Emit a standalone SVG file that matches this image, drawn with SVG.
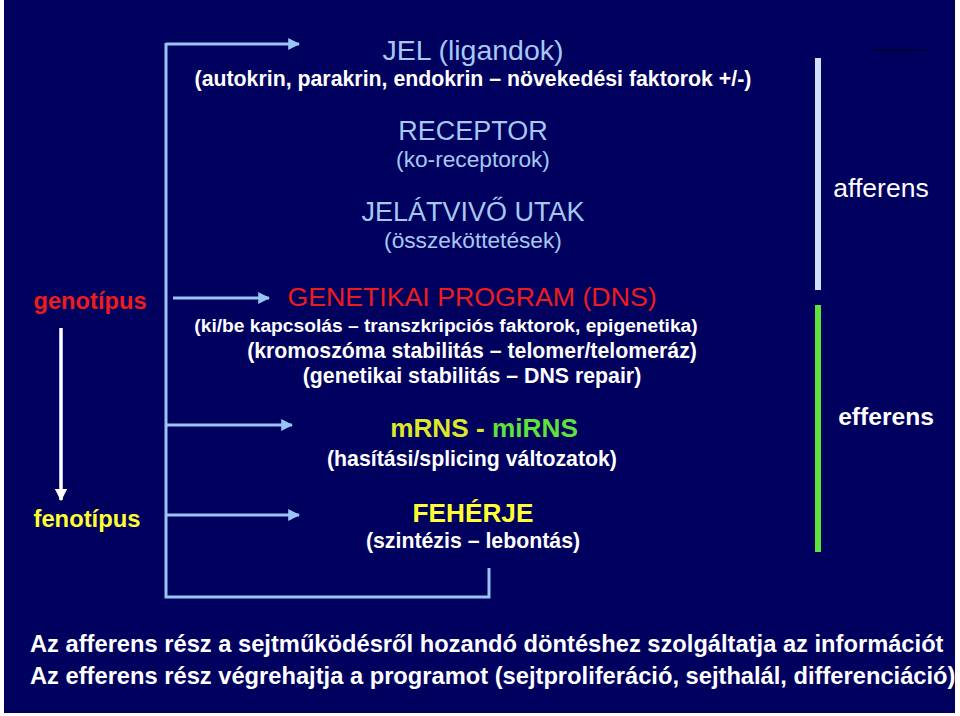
<svg xmlns="http://www.w3.org/2000/svg" width="960" height="716" viewBox="0 0 960 716">
<defs>
<style>
text{font-family:"Liberation Sans",Arial,sans-serif;}
.c{text-anchor:middle;}
.lb{fill:#a6c8f2;font-size:27px;}
.lbs{fill:#a6c8f2;font-size:22.7px;}
.w{fill:#ffffff;font-size:21.3px;font-weight:bold;}
.bw{fill:#ffffff;font-size:23.7px;font-weight:bold;}
.ln{stroke:#99c4f5;stroke-width:3;fill:none;}
</style>
<marker id="ah" viewBox="0 0 10 10" refX="9" refY="5" markerWidth="4" markerHeight="4" markerUnits="strokeWidth" orient="auto">
<path d="M0,0 L10,5 L0,10 z" fill="#99c4f5"/>
</marker>
<marker id="wh" viewBox="0 0 10 10" refX="9" refY="5" markerWidth="3.5" markerHeight="3.5" markerUnits="strokeWidth" orient="auto">
<path d="M0,0 L10,5 L0,10 z" fill="#ffffff"/>
</marker>
</defs>
<rect x="0" y="0" width="960" height="716" fill="#ffffff"/>
<rect x="4" y="0" width="951" height="713" fill="#00005f"/>
<g id="connectors">
<polyline class="ln" points="166,43 166,597 489,597 489,568"/>
<line class="ln" x1="166" y1="44" x2="299" y2="44" marker-end="url(#ah)"/>
<line class="ln" x1="173" y1="298" x2="269" y2="298" marker-end="url(#ah)"/>
<line class="ln" x1="166" y1="425" x2="292" y2="425" marker-end="url(#ah)"/>
<line class="ln" x1="166" y1="515" x2="299" y2="515" marker-end="url(#ah)"/>
<line x1="61" y1="328" x2="61" y2="500" stroke="#ffffff" stroke-width="3.5" marker-end="url(#wh)"/>
<rect x="815" y="58" width="6" height="232" fill="#cfe2fb"/>
<rect x="815" y="305" width="6" height="247" fill="#5ee33a"/>
<line x1="873" y1="50" x2="926" y2="50" stroke="#000033" stroke-width="2"/>
</g>
<g id="jel">
<text class="c lb" x="473" y="60" style="font-size:28.5px">JEL (ligandok)</text>
<text class="c w" x="473" y="86">(autokrin, parakrin, endokrin – növekedési faktorok +/-)</text>
</g>
<g id="receptor">
<text class="c lb" x="473" y="140">RECEPTOR</text>
<text class="c lbs" x="473" y="167">(ko-receptorok)</text>
</g>
<g id="jelatvivo">
<text class="c lb" x="473" y="221">JELÁTVIVŐ UTAK</text>
<text class="c lbs" x="473" y="248">(összeköttetések)</text>
</g>
<g id="genetikai">
<text class="c" x="472" y="306" fill="#ee1c1c" font-size="26.7">GENETIKAI PROGRAM (DNS)</text>
<text class="c w" x="446" y="332" style="font-size:19.2px">(ki/be kapcsolás – transzkripciós faktorok, epigenetika)</text>
<text class="c w" x="472" y="358">(kromoszóma stabilitás – telomer/telomeráz)</text>
<text class="c w" x="472" y="383">(genetikai stabilitás – DNS repair)</text>
</g>
<g id="mrns">
<text class="c" x="484" y="437" font-size="26.2" font-weight="bold"><tspan fill="#dde82a">mRNS - </tspan><tspan fill="#5ee33a">miRNS</tspan></text>
<text class="c w" x="472" y="466">(hasítási/splicing változatok)</text>
</g>
<g id="feherje">
<text class="c" x="473" y="522" font-size="26.2" font-weight="bold" fill="#ffff33">FEHÉRJE</text>
<text class="c w" x="473" y="548">(szintézis – lebontás)</text>
</g>
<g id="genotipus">
<text class="c" x="90" y="309" font-size="23.7" font-weight="bold" fill="#ee1c1c">genotípus</text>
</g>
<g id="fenotipus">
<text class="c" x="87" y="527" font-size="23.8" font-weight="bold" fill="#ffff33">fenotípus</text>
</g>
<g id="afferens">
<text class="c" x="881" y="197" font-size="26.5" fill="#ffffff">afferens</text>
</g>
<g id="efferens">
<text class="c" x="886" y="425" font-size="24.6" font-weight="bold" fill="#ffffff">efferens</text>
</g>
<g id="bottom">
<text class="bw" x="30" y="652">Az afferens rész a sejtműködésről hozandó döntéshez szolgáltatja az információt</text>
<text class="bw" x="30" y="684">Az efferens rész végrehajtja a programot (sejtproliferáció, sejthalál, differenciáció)</text>
</g>
</svg>
